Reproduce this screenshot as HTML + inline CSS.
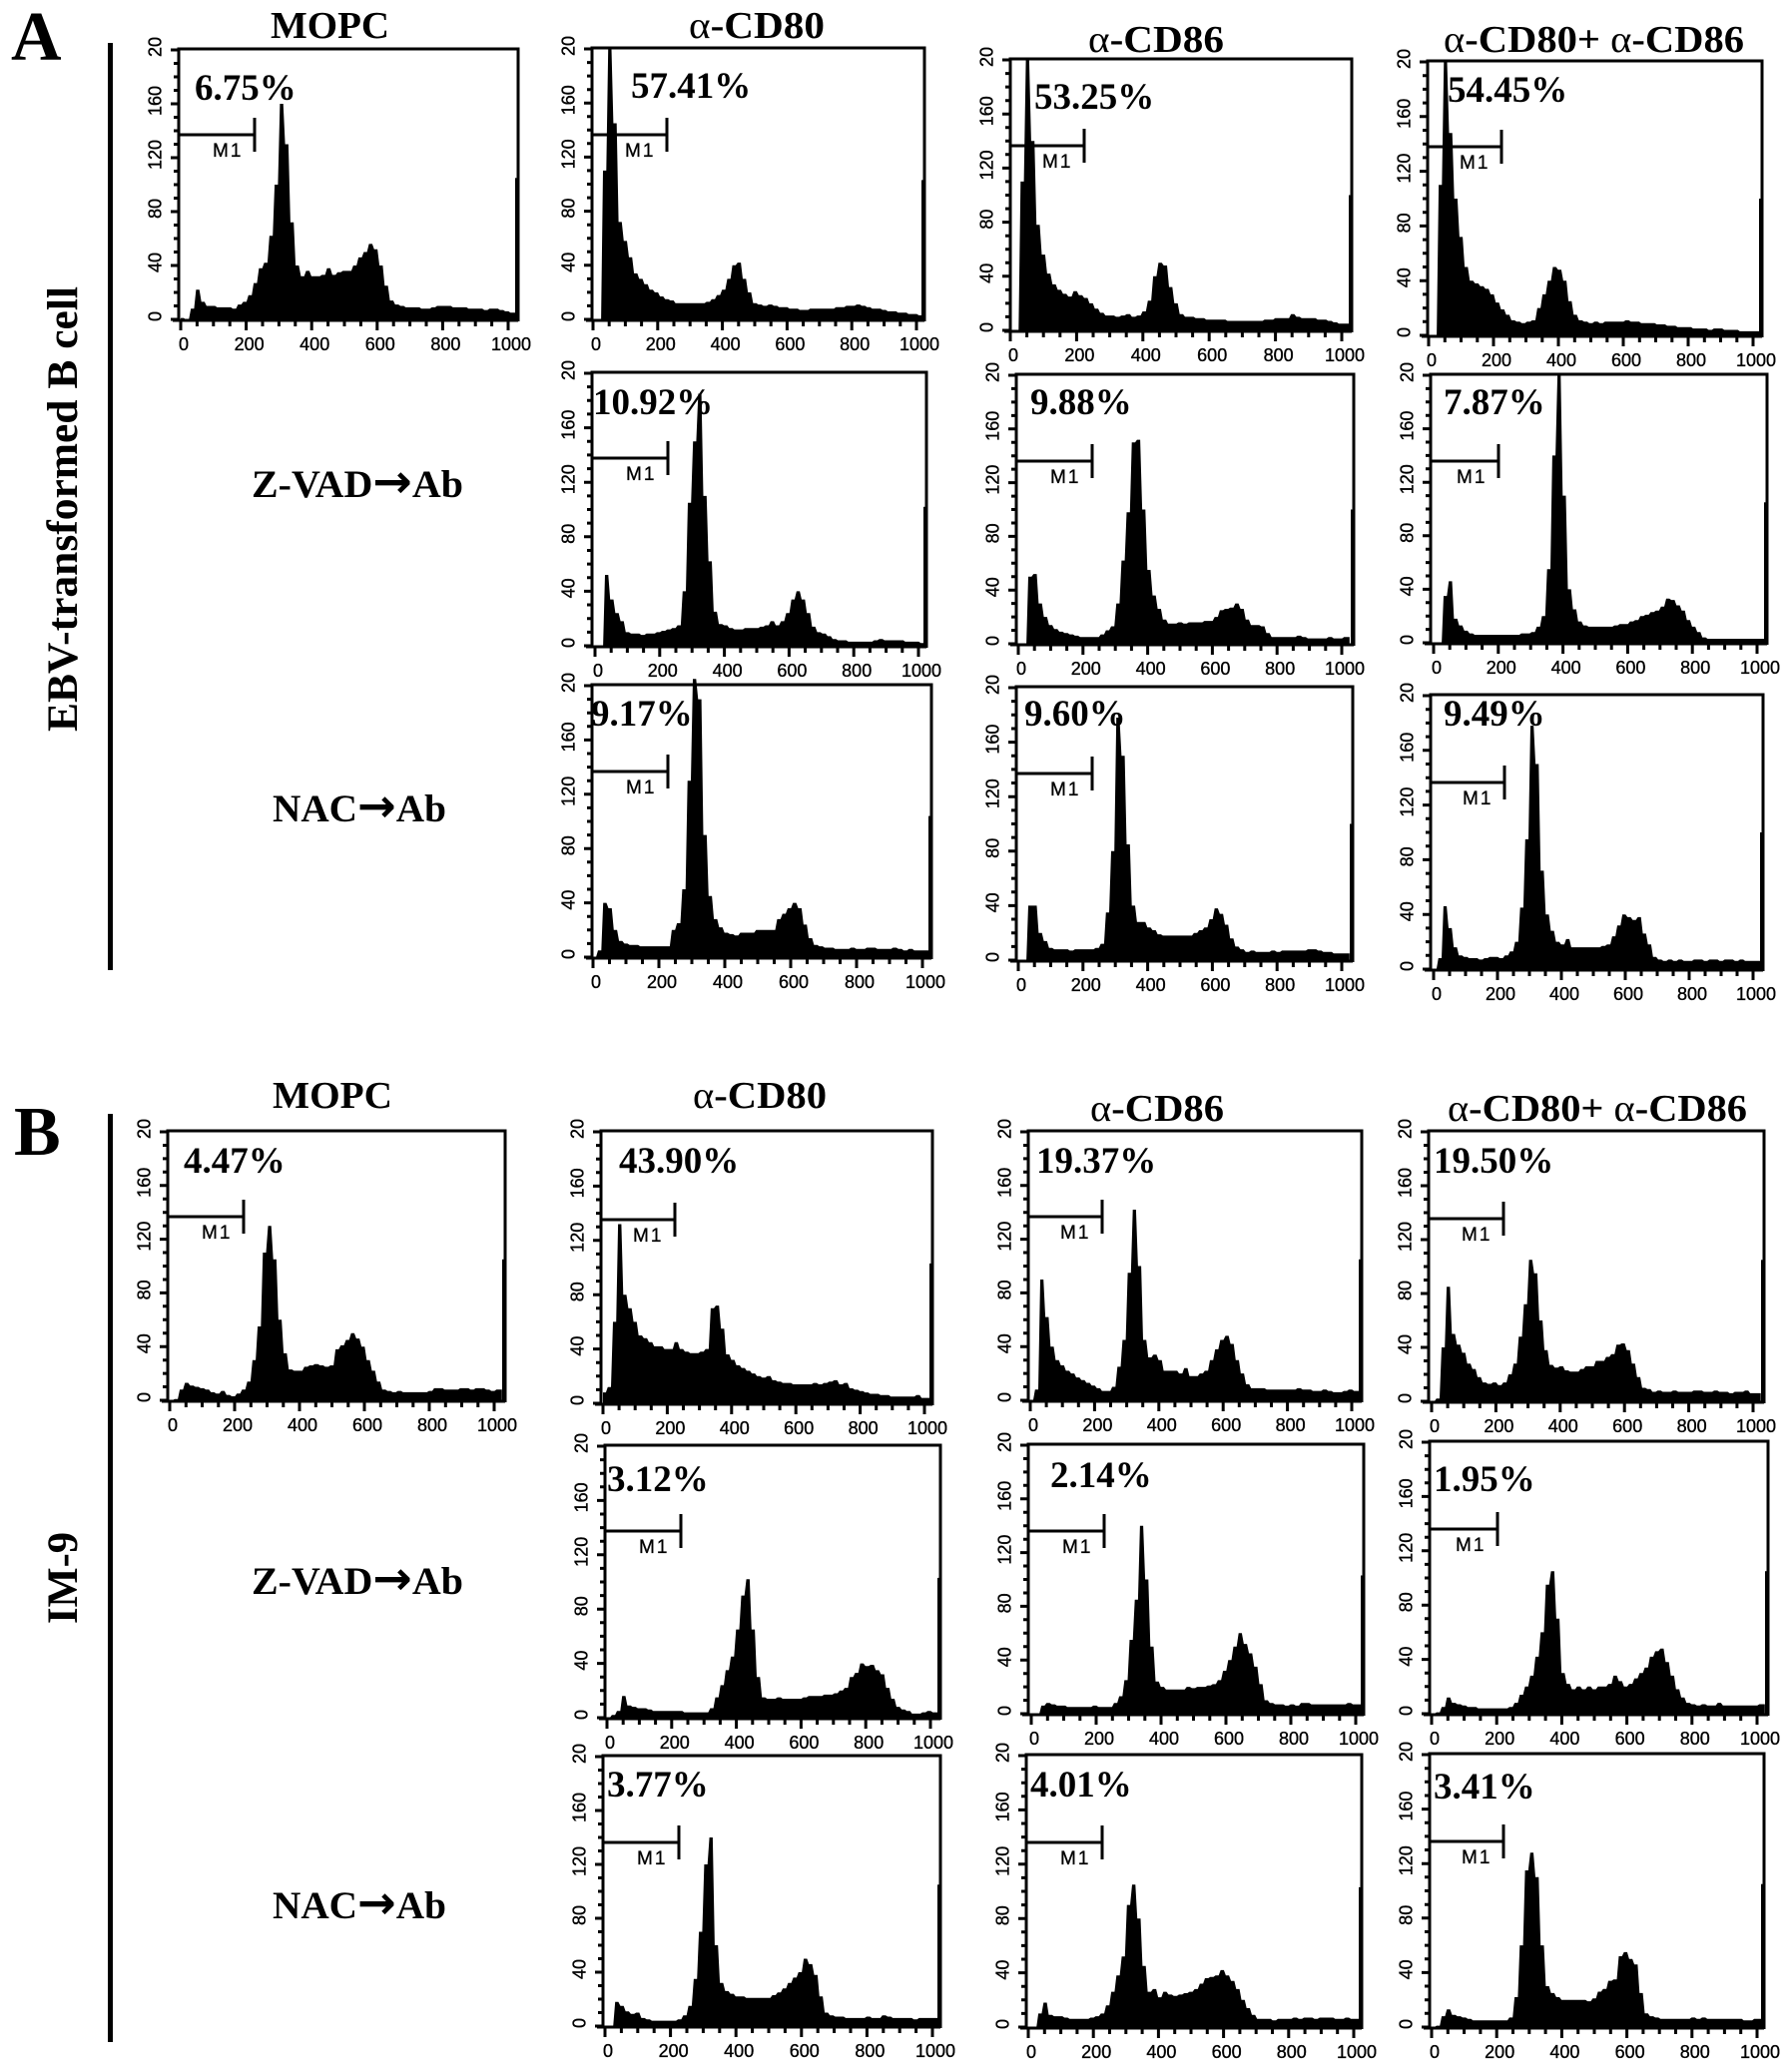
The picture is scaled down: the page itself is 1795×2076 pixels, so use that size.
<!DOCTYPE html>
<html lang="en">
<head>
<meta charset="utf-8">
<title>Flow cytometry histograms: EBV-transformed B cell and IM-9</title>
<style>
html,body{margin:0;padding:0;background:#fff;}
svg{display:block;}
.serif{font-family:"Liberation Serif",serif;font-weight:bold;fill:#000;}
.sans{font-family:"Liberation Sans",sans-serif;fill:#000;stroke:#000;stroke-width:0.35px;}
.arrow{font-family:"DejaVu Sans",sans-serif;font-weight:bold;font-size:46px;}
</style>
</head>
<body>
<svg id="figure" xmlns="http://www.w3.org/2000/svg" width="1795" height="2076" viewBox="0 0 1795 2076">
  <rect x="0" y="0" width="1795" height="2076" fill="#fff"/>

  <text class="serif" x="11" y="60" font-size="70">A</text>
  <text class="serif" x="14" y="1157" font-size="70">B</text>
  <rect x="108" y="43" width="5" height="929" fill="#000"/>
  <rect x="108" y="1116" width="5" height="930" fill="#000"/>
  <text class="serif" font-size="43" transform="translate(77,733) rotate(-90)" textLength="446" lengthAdjust="spacingAndGlyphs">EBV-transformed B cell</text>
  <text class="serif" font-size="43" transform="translate(77,1627) rotate(-90)" textLength="92" lengthAdjust="spacingAndGlyphs">IM-9</text>

  <text class="serif" font-size="38" x="271" y="38" textLength="119" lengthAdjust="spacingAndGlyphs">MOPC</text>
  <text class="serif" font-size="38" x="690" y="38" textLength="136" lengthAdjust="spacingAndGlyphs"><tspan font-weight="normal">α</tspan>-CD80</text>
  <text class="serif" font-size="38" x="1090" y="52" textLength="136" lengthAdjust="spacingAndGlyphs"><tspan font-weight="normal">α</tspan>-CD86</text>
  <text class="serif" font-size="38" x="1446" y="52" textLength="301" lengthAdjust="spacingAndGlyphs"><tspan font-weight="normal">α</tspan>-CD80+ <tspan font-weight="normal">α</tspan>-CD86</text>

  <text class="serif" font-size="38" x="273" y="1110" textLength="120" lengthAdjust="spacingAndGlyphs">MOPC</text>
  <text class="serif" font-size="38" x="694" y="1110" textLength="134" lengthAdjust="spacingAndGlyphs"><tspan font-weight="normal">α</tspan>-CD80</text>
  <text class="serif" font-size="38" x="1092" y="1123" textLength="134" lengthAdjust="spacingAndGlyphs"><tspan font-weight="normal">α</tspan>-CD86</text>
  <text class="serif" font-size="38" x="1450" y="1123" textLength="300" lengthAdjust="spacingAndGlyphs"><tspan font-weight="normal">α</tspan>-CD80+ <tspan font-weight="normal">α</tspan>-CD86</text>

  <text class="serif" font-size="39" x="252" y="498" textLength="212" lengthAdjust="spacingAndGlyphs">Z-VAD<tspan class="arrow">→</tspan>Ab</text>
  <text class="serif" font-size="39" x="273" y="823" textLength="174" lengthAdjust="spacingAndGlyphs">NAC<tspan class="arrow">→</tspan>Ab</text>
  <text class="serif" font-size="39" x="252" y="1597" textLength="212" lengthAdjust="spacingAndGlyphs">Z-VAD<tspan class="arrow">→</tspan>Ab</text>
  <text class="serif" font-size="39" x="273" y="1922" textLength="174" lengthAdjust="spacingAndGlyphs">NAC<tspan class="arrow">→</tspan>Ab</text>
</svg>

<script>
// Axis values and labels
const xTickValues = [0, 200, 400, 600, 800, 1000];
const yTickValues = [0, 40, 80, 120, 160, 200];
const yTickLabels = ["0", "40", "80", "120", "160", "20"];
const binChannels = 16;

// Histogram counts, one value per 16-channel bin (64 bins)
const aMopc = [1,0,8,22,13,10,10,9, 9,9,8,11,13,18,27,38, 42,62,100,160,130,72,40,32, 36,32,32,33,38,33,35,36, 36,40,46,50,56,52,40,25, 14,11,10,9,9,9,8,8, 9,10,10,10,9,9,9,8, 8,8,7,8,8,7,6,5];
const aCd80 = [0,0,110,200,145,72,58,46, 34,30,26,22,20,17,15,14, 12,12,12,12,12,12,13,15, 18,22,30,40,42,30,20,12, 11,10,11,10,9,9,8,8, 7,7,8,8,8,8,8,9, 9,10,10,11,10,9,8,8, 7,6,6,5,5,4,4,3];
const aCd86 = [0,0,110,200,140,78,56,42, 34,30,27,25,29,26,24,20, 16,13,11,11,10,11,12,10, 11,14,22,40,50,48,32,20, 12,10,10,9,9,8,8,8, 8,7,7,7,7,7,7,7, 8,8,9,9,9,12,10,9, 9,9,8,8,7,6,5,5];
const aBoth = [0,0,110,200,148,100,72,50, 40,38,36,34,30,24,19,15, 11,10,9,10,11,20,30,40, 50,48,40,25,15,11,10,9, 10,9,10,10,10,10,11,10, 10,9,9,9,8,8,7,7, 6,6,6,5,5,5,4,5, 5,4,4,4,3,3,3,3];
const aZvadCd80 = [0,0,52,34,24,18,10,9, 9,8,9,9,10,11,12,13, 15,40,105,150,185,110,62,25, 16,15,13,12,12,13,13,13, 14,15,18,15,18,24,34,40, 34,24,14,10,9,7,5,4, 4,3,3,3,3,3,4,5, 4,4,4,4,3,3,3,2];
const aZvadCd86 = [0,0,50,52,30,20,14,11, 9,8,7,6,5,5,5,5, 7,10,13,30,62,98,150,152, 100,55,36,26,18,15,15,16, 15,16,16,16,17,17,20,25, 26,27,30,26,18,14,14,13, 8,5,5,5,5,5,6,5, 4,4,4,4,5,4,4,5];
const aZvadBoth = [0,0,35,46,18,13,9,7, 6,6,6,6,6,6,6,6, 6,7,7,8,12,20,55,140, 200,110,40,25,16,13,12,12, 12,12,12,13,14,14,16,17, 20,21,23,24,27,33,32,28, 24,17,12,8,4,3,3,3, 3,3,3,3,3,3,3,3];
const aNacCd80 = [0,5,40,36,20,12,10,9, 9,8,8,8,8,8,8,20, 25,50,130,205,190,90,45,28, 22,18,17,16,18,18,18,20, 20,20,20,28,32,36,40,36, 24,14,9,8,7,7,6,6, 6,7,6,6,7,7,6,6, 6,7,6,5,6,5,5,5];
const aNacCd86 = [0,0,40,40,20,14,9,8, 8,8,7,8,8,8,8,9, 12,35,80,178,150,85,40,28, 28,24,22,19,18,18,18,18, 18,18,20,22,24,30,38,34, 26,16,10,8,6,7,6,6, 6,7,6,7,7,7,7,7, 8,8,7,6,6,5,5,5];
const aNacBoth = [0,8,46,30,16,10,9,8, 8,7,8,9,9,8,10,13, 20,45,95,178,150,72,40,28, 20,18,22,16,16,16,16,16, 16,17,18,24,32,40,38,36, 38,26,18,9,7,6,7,6, 7,6,6,7,7,6,7,7, 6,7,7,6,7,6,6,6];
const bMopc = [0,1,8,13,11,10,9,8, 6,5,7,4,3,5,8,14, 30,55,110,130,105,60,35,23, 22,22,25,26,27,26,25,26, 38,41,45,50,46,40,30,22, 14,8,7,6,7,6,6,6, 6,6,7,9,9,8,8,8, 9,9,8,9,9,8,7,8];
const bCd80 = [8,12,60,132,80,70,60,50, 48,45,42,42,40,40,45,40, 38,37,37,38,40,70,72,55, 36,32,28,26,24,22,20,19, 20,17,16,15,15,14,14,14, 14,15,14,15,16,17,14,15, 11,10,9,8,7,7,6,6, 5,5,5,5,5,6,4,4];
const bCd86 = [0,8,90,62,40,30,26,22, 20,17,15,13,11,9,7,7, 10,25,45,95,142,100,45,32, 34,30,22,22,22,20,24,18, 18,20,22,30,38,45,48,42, 30,20,12,9,9,9,8,8, 8,8,8,8,9,8,8,7, 7,8,7,6,6,7,8,7];
const bBoth = [0,2,40,85,50,42,36,28, 24,18,14,13,14,12,14,20, 28,48,72,105,95,60,38,27, 25,26,23,22,22,24,26,26, 30,30,33,35,42,43,38,28, 18,10,9,7,8,7,7,8, 7,7,7,8,8,7,7,8, 7,7,6,7,7,8,6,6];
const bZvadCd80 = [0,2,5,16,9,8,7,7, 6,5,5,5,5,5,5,4, 4,4,4,4,7,15,24,35, 45,65,90,102,65,30,15,14, 14,15,14,14,14,14,15,16, 16,16,17,17,18,20,22,30, 33,40,38,39,35,32,22,14, 8,6,5,3,3,4,5,4];
const bZvadCd86 = [0,0,6,8,7,6,6,5, 5,5,5,5,6,5,5,5, 8,13,25,55,85,140,100,50, 24,20,18,18,18,18,20,19, 20,20,21,22,25,32,40,50, 60,52,45,35,22,10,8,7, 7,6,7,6,8,8,7,7, 7,7,7,7,7,8,7,7];
const bZvadBoth = [0,1,5,12,8,7,6,5, 5,4,4,4,4,4,4,5, 8,14,20,28,42,60,95,105, 70,30,22,18,20,18,20,18, 20,20,22,28,24,20,22,26, 30,34,42,46,48,38,28,18, 12,8,7,6,7,6,6,8, 6,6,6,6,6,6,6,7];
const bNacCd80 = [0,0,18,15,11,9,10,6, 5,4,4,4,4,4,5,8, 15,35,70,120,140,60,32,26, 24,22,22,21,21,21,21,21, 23,25,28,32,36,40,50,46, 38,22,10,8,7,7,6,6, 6,6,7,6,6,8,7,6, 6,6,6,5,6,6,6,6];
const bNacCd86 = [0,0,10,18,9,8,8,7, 6,6,6,6,7,8,10,16, 26,38,52,90,105,80,45,26, 28,22,26,24,23,24,25,26, 28,32,36,37,38,42,38,34, 28,20,14,9,6,6,6,5, 6,6,6,7,6,7,7,6, 7,7,7,6,6,7,6,6];
const bNacBoth = [0,1,8,13,9,8,7,6, 5,5,5,5,5,5,5,7, 22,60,115,128,110,60,30,25, 22,20,20,20,20,20,19,21, 26,28,34,35,52,55,50,46, 25,10,8,7,6,6,6,6, 6,6,7,6,7,6,6,6, 6,6,6,6,5,5,6,6];

// Off-scale event count in the last channel of each histogram
const lastChannelCounts = [105,103,100,100,102,100,105,104,100,100,105,103,105,105,103,103,105,105,103,105];

// Printed M1 gate percentages
const gatePercents = ["6.75%","57.41%","53.25%","54.45%","10.92%","9.88%","7.87%","9.17%","9.60%","9.49%","4.47%","43.90%","19.37%","19.50%","3.12%","2.14%","1.95%","3.77%","4.01%","3.41%"];

const seriesList = [aMopc,aCd80,aCd86,aBoth,aZvadCd80,aZvadCd86,aZvadBoth,aNacCd80,aNacCd86,aNacBoth,bMopc,bCd80,bCd86,bBoth,bZvadCd80,bZvadCd86,bZvadBoth,bNacCd80,bNacCd86,bNacBoth];
const seriesKeys = ["a-mopc","a-cd80","a-cd86","a-combined","a-zvad-cd80","a-zvad-cd86","a-zvad-combined","a-nac-cd80","a-nac-cd86","a-nac-combined","b-mopc","b-cd80","b-cd86","b-combined","b-zvad-cd80","b-zvad-cd86","b-zvad-combined","b-nac-cd80","b-nac-cd86","b-nac-combined"];

// Panel placement on the page: [frame left, frame right, frame top, y of 0, x of 0, x of 1000, gate y, gate end x, percent x, percent baseline]
const panelLayout = [
  [179,519,49,320,181,509,135,255,195,100],
  [593,926,48,320,594,918,135,668,632,98],
  [1012,1354,59,331,1012,1344,146,1086,1036,109],
  [1430,1765,61,336,1431,1756,147,1504,1450,102],
  [593,928,373,647,596,920,459,669,594,415],
  [1018,1356,375,645,1020,1344,462,1094,1032,415],
  [1433,1770,375,644,1436,1760,462,1501,1446,415],
  [593,933,686,959,594,924,773,669,592,727],
  [1018,1355,688,962,1020,1344,775,1094,1026,727],
  [1433,1766,696,971,1436,1756,784,1507,1446,727],
  [168,506,1133,1403,170,495,1219,244,184,1175],
  [602,934,1133,1406,604,926,1222,676,620,1175],
  [1030,1364,1133,1403,1032,1354,1219,1104,1038,1175],
  [1431,1767,1133,1404,1434,1756,1221,1506,1436,1175],
  [606,942,1448,1721,608,932,1534,682,608,1494],
  [1030,1366,1447,1717,1033,1358,1534,1106,1052,1490],
  [1432,1771,1444,1717,1434,1760,1532,1500,1436,1494],
  [604,942,1759,2030,606,934,1846,680,608,1800],
  [1028,1364,1758,2031,1030,1356,1846,1104,1032,1800],
  [1432,1767,1757,2031,1434,1760,1845,1506,1436,1802]
];

const SVG_NS = "http://www.w3.org/2000/svg";
const figure = document.getElementById("figure");

function make(parent, tag, attrs, text) {
  const node = document.createElementNS(SVG_NS, tag);
  for (const key in attrs) node.setAttribute(key, attrs[key]);
  if (text !== undefined) node.textContent = text;
  parent.appendChild(node);
  return node;
}

seriesList.forEach(function (counts, p) {
  const [left, right, top, y0, x0, x1000, gateY, gateX, pctX, pctY] = panelLayout[p];
  const key = seriesKeys[p];
  const xScale = function (channel) { return x0 + channel * (x1000 - x0) / 1000; };
  const yScale = function (value) { return y0 - value * (y0 - top - 1) / 200; };

  const panel = make(figure, "g", {});
  
  

  // Filled histogram outline drawn from the bin counts
  let d = "M" + xScale(0).toFixed(1) + " " + (y0 + 2);
  counts.forEach(function (value, i) {
    const centre = i * binChannels + 4;
    const xa = xScale(Math.max(0, centre - 5)).toFixed(1);
    const xb = xScale(centre + 5).toFixed(1);
    const yv = yScale(value).toFixed(1);
    d += "L" + xa + " " + yv + "L" + xb + " " + yv;
  });
  const lastValueY = yScale(counts[counts.length - 1]).toFixed(1);
  const endX = xScale(counts.length * binChannels).toFixed(1);
  d += "L" + endX + " " + lastValueY + "L" + endX + " " + (y0 + 2) + "Z";
  const hist = make(panel, "path", { d: d, fill: "#000" });
  
  

  // Off-scale bar at the last channel
  const spikeTop = yScale(lastChannelCounts[p]);
  const spike = make(panel, "rect", { x: right - 3, y: spikeTop.toFixed(1), width: 3, height: (y0 + 2 - spikeTop).toFixed(1), fill: "#000" });
  
  

  // Frame and baseline
  const frame = make(panel, "path", {
    d: "M" + left + " " + (y0 + 1) + "V" + top + "H" + right + "V" + (y0 + 2),
    fill: "none", stroke: "#000", "stroke-width": 3
  });
  
  
  const baseline = make(panel, "line", { x1: left - 6, x2: right, y1: y0 + 1, y2: y0 + 1, stroke: "#000", "stroke-width": 3 });
  
  

  // Minor and major ticks
  let xTicksPath = "";
  for (let ch = 0; ch <= 1000; ch += 50) {
    xTicksPath += "M" + xScale(ch).toFixed(1) + " " + (y0 + 2) + "V" + (y0 + (ch % 200 === 0 ? 11 : 7));
  }
  const xTicks = make(panel, "path", { d: xTicksPath, stroke: "#000", "stroke-width": 3, fill: "none" });
  
  

  let yTicksPath = "";
  for (let v = 0; v <= 200; v += 10) {
    yTicksPath += "M" + (left - (v % 40 === 0 || v === 200 ? 8 : 5)) + " " + yScale(v).toFixed(1) + "H" + left;
  }
  const yTicks = make(panel, "path", { d: yTicksPath, stroke: "#000", "stroke-width": 3, fill: "none" });
  
  

  // Tick labels
  xTickValues.forEach(function (value) {
    const label = make(panel, "text", {
      "class": "sans", x: xScale(value) + 3, y: y0 + 31, "font-size": 18, "text-anchor": "middle"
    }, String(value));
    
    
  });
  yTickValues.forEach(function (value, i) {
    const cy = yScale(value) - 3;
    const label = make(panel, "text", {
      "class": "sans", transform: "translate(" + (left - 24) + "," + cy.toFixed(1) + ") rotate(-90)",
      "font-size": 18, "text-anchor": "middle", dy: "0.36em"
    }, yTickLabels[i]);
    
    
  });

  // M1 gate marker
  const gate = make(panel, "path", {
    d: "M" + left + " " + gateY + "H" + gateX + "M" + gateX + " " + (gateY - 17) + "V" + (gateY + 17),
    stroke: "#000", "stroke-width": 3, fill: "none"
  });
  
  
  const gateLabel = make(panel, "text", {
    "class": "sans", x: gateX - 42, y: gateY + 22, "font-size": 19, "letter-spacing": 2
  }, "M1");
  
  

  // Printed percentage
  const pct = make(panel, "text", { "class": "serif", x: pctX, y: pctY, "font-size": 37 }, gatePercents[p]);
  
  
});
</script>
</body>
</html>
